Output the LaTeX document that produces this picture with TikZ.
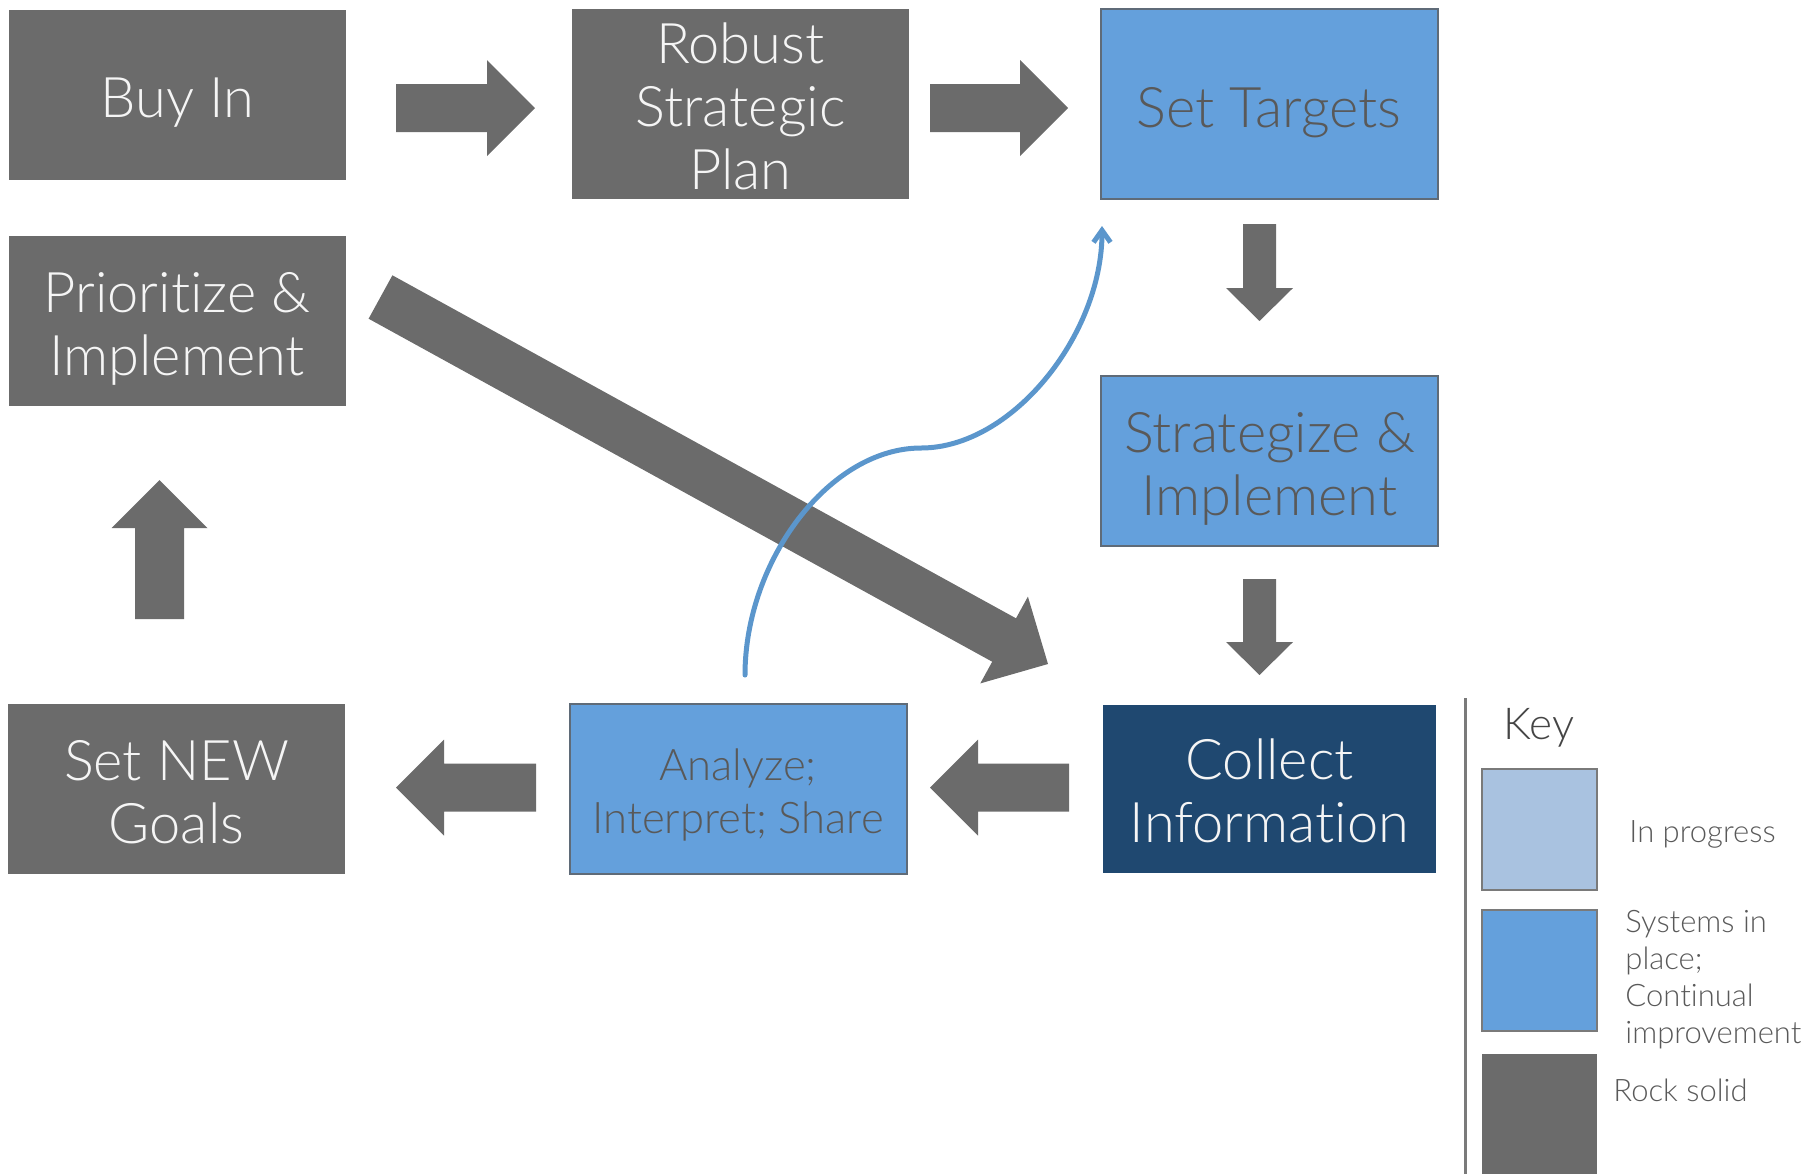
\documentclass[tikz,border=0pt]{standalone}
\usepackage{fontspec}
\setmainfont{Lato}[UprightFont={* Light}, Ligatures=NoCommon]
\usetikzlibrary{arrows.meta}

\definecolor{rock}{HTML}{6B6B6B}
\definecolor{sysblue}{HTML}{64A0DC}
\definecolor{navy}{HTML}{1F4870}
\definecolor{progblue}{HTML}{A9C2E0}
\definecolor{bluetext}{HTML}{595959}
\definecolor{edgegray}{HTML}{5F6B78}
\definecolor{curveblue}{HTML}{5B96CC}
\definecolor{keytext}{HTML}{454545}
\definecolor{keyline}{HTML}{7A7A7A}

% right / left pointing block arrow: tail x, tip x, centre y
\newcommand\hblock[3]{%
  \pgfmathsetmacro\hb{#2-48*sign(#2-#1)}%
  \fill[rock] (#1,#3-24) -- (\hb,#3-24) -- (\hb,#3-48) -- (#2,#3)
    -- (\hb,#3+48) -- (\hb,#3+24) -- (#1,#3+24) -- cycle;}
% up / down pointing block arrow: centre x, tail y, tip y, shaft half, head half, head length
\newcommand\vblock[6]{%
  \pgfmathsetmacro\vb{#3-#6*sign(#3-#2)}%
  \fill[rock] (#1-#4,#2) -- (#1-#4,\vb) -- (#1-#5,\vb) -- (#1,#3)
    -- (#1+#5,\vb) -- (#1+#4,\vb) -- (#1+#4,#2) -- cycle;}

\tikzset{
  box/.style={rectangle, inner sep=0pt, minimum width=168.5pt, minimum height=85pt},
  rockbox/.style={box, fill=rock},
  sysbox/.style={box, fill=sysblue, draw=edgegray, line width=1pt},
  navybox/.style={box, fill=navy},
  txt/.style={inner sep=0pt, align=center},
  light/.style={txt, text=white!96!black},
  dark/.style={txt, text=bluetext},
  big/.style={font=\fontsize{28}{31.5}\selectfont},
  mid/.style={font=\fontsize{21.8}{26.5}\selectfont},
  keybox/.style={rectangle, inner sep=0pt, draw=keyline, line width=1pt,
    minimum width=57.5pt, minimum height=60.5pt},
  keylabel/.style={anchor=base west, inner sep=0pt, align=left, text=bluetext,
    font=\fontsize{15.5}{18.5}\selectfont},
}

\begin{document}
\begin{tikzpicture}[x=0.5pt, y=-0.5pt]
  \useasboundingbox (0,0) rectangle (1804,1174);

  % process boxes
  \node[rockbox] (buy) at (177.5,94.5) {};
  \node[rockbox, minimum height=95pt] (plan) at (740.5,104) {};
  \node[sysbox, minimum height=95pt] (targets) at (1269,104) {};
  \node[rockbox] (prio) at (177,321) {};
  \node[sysbox] (strat) at (1269.5,461) {};
  \node[navybox, minimum width=166.5pt, minimum height=84pt] (collect) at (1269.5,789) {};
  \node[sysbox] (analyze) at (738,789) {};
  \node[rockbox] (newgoals) at (176.5,789) {};

  % box captions
  \node[light, big] (buyt) at ([yshift=-4pt]buy.center) {Buy In};
  \node[light, big] (plant) at ([yshift=-1pt]plan.center) {Robust\\Strategic\\Plan};
  \node[dark, big] (targetst) at ([yshift=-4.5pt]targets.center) {Set Targets};
  \node[light, big] (priot) at ([yshift=-4pt]prio.center) {Prioritize \&\\Implement};
  \node[dark, big] (stratt) at ([yshift=-4pt]strat.center) {Strategize \&\\Implement};
  \node[light, big] (collectt) at ([yshift=-1pt]collect.center) {Collect\\Information};
  \node[dark, mid] (analyzet) at ([yshift=-3pt]analyze.center) {Analyze;\\Interpret; Share};
  \node[light, big] (newgoalst) at ([yshift=-1.5pt]newgoals.center) {Set NEW\\Goals};

  % block arrows between the boxes
  \hblock{396}{535}{108}
  \hblock{930}{1068}{108}
  \hblock{1069}{930}{787.5}
  \hblock{536}{396}{787.5}
  \vblock{1259.5}{224}{321}{16.5}{33.5}{33}
  \vblock{1259.5}{579}{675}{16.5}{33.5}{33}
  \vblock{159.5}{619}{480}{24.5}{48}{48}

  % long diagonal arrow from Prioritize & Implement to Collect Information
  \fill[rock] (392.4,275.3) -- (1016,618.3) -- (1027.9,596.6) -- (1048,664)
    -- (980.3,683.4) -- (992.2,661.7) -- (368.6,318.7) -- cycle;

  % feedback curve from Analyze back to Set Targets
  \coordinate (cstart) at (745,675);
  \coordinate (cmid) at (921,448);
  \coordinate (cend) at (1102,226);
  \draw[curveblue, line width=2.5pt, line cap=round,
        -{Straight Barb[length=6pt, width=8.5pt, line width=2.5pt]}]
    (cstart) .. controls (745,560) and (830,448) .. (cmid)
             .. controls (1012,448) and (1102,335) .. (cend);

  % key
  \coordinate (ktop) at (1465,698);
  \coordinate (kbot) at (1465,1174);
  \draw[keyline, line width=1.5pt] (ktop) -- (kbot);
  \node[anchor=base west, inner sep=0pt, text=keytext,
        font=\fontsize{22}{26}\selectfont] (keytitle) at (1503,739) {Key};
  \node[keybox, fill=progblue] (kprog) at (1539.5,829.5) {};
  \node[keybox, fill=sysblue] (ksys) at (1539.5,970.5) {};
  \fill[rock] (1482,1054) rectangle (1597,1174);
  \node[keylabel] (lprog) at (1629,842) {In progress};
  \node[keylabel] (lsys) at (1625,1043) {Systems in\\place;\\Continual\\improvement};
  \node[keylabel] (lrock) at (1613,1101) {Rock solid};
\end{tikzpicture}
\end{document}
